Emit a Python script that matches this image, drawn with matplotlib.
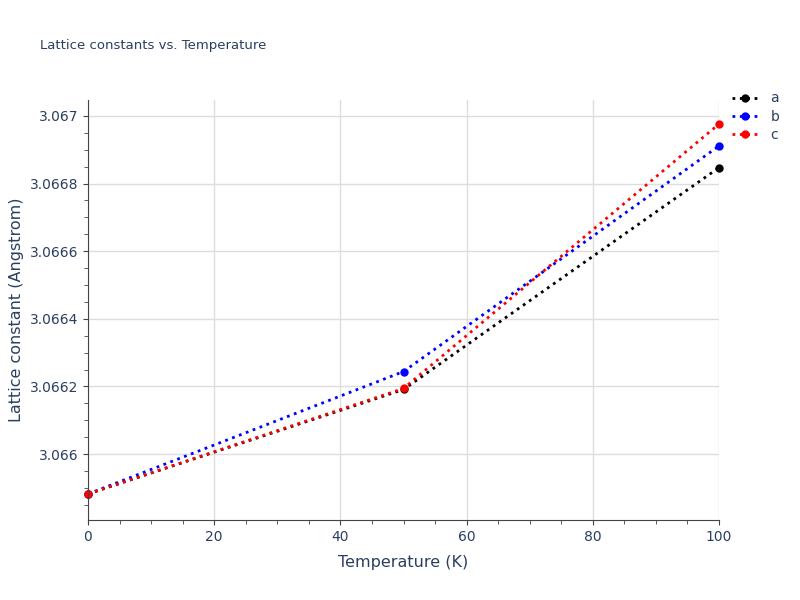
import matplotlib.pyplot as plt
from matplotlib.ticker import MultipleLocator

temps = [0, 50, 100]
a = [3.065882, 3.066191, 3.066847]
b = [3.065882, 3.066244, 3.066911]
c = [3.065882, 3.066194, 3.066976]

fig = plt.figure(figsize=(8, 6), dpi=100)
ax = fig.add_axes([88 / 800, 80 / 600, 631 / 800, 420 / 600])

for vals, col, name in [(a, 'black', 'a'), (b, 'blue', 'b'), (c, 'red', 'c')]:
    ax.plot(temps, vals, ':', color=col, marker='o', markersize=5, linewidth=2,
            label=name, clip_on=False)

ax.set_xlim(0, 100)
ax.xaxis.set_major_locator(MultipleLocator(20))
ax.xaxis.set_minor_locator(MultipleLocator(5))
yt = [3.066, 3.0662, 3.0664, 3.0666, 3.0668, 3.067]
ax.set_yticks(yt)
ax.set_yticklabels([('%.4f' % t).rstrip('0') for t in yt])
ax.yaxis.set_minor_locator(MultipleLocator(0.00005))
ax.set_ylim(3.065805, 3.067047)
ax.grid(True, color='#dddddd', linewidth=1)
ax.set_axisbelow(True)
for s in ['top', 'right']:
    ax.spines[s].set_visible(False)
for s in ['left', 'bottom']:
    ax.spines[s].set_color('#444444')
ax.tick_params(colors='#444444', labelcolor='#2a3f5f', labelsize=10)
ax.tick_params(which='minor', length=3, color='#444444')
ax.set_xlabel('Temperature (K)', color='#2a3f5f', fontsize=11.5, labelpad=8)
ax.set_ylabel('Lattice constant (Angstrom)', color='#2a3f5f', fontsize=11.5)
fig.text(40 / 800, 1 - 46 / 600, 'Lattice constants vs. Temperature', color='#2a3f5f',
         fontsize=9.5, va='center')
ax.legend(loc='upper left', bbox_to_anchor=(1.0, 1.05), frameon=False,
          labelcolor='#2a3f5f', fontsize=10, handlelength=2, labelspacing=0.3)
fig.savefig('out.png', dpi=100)
